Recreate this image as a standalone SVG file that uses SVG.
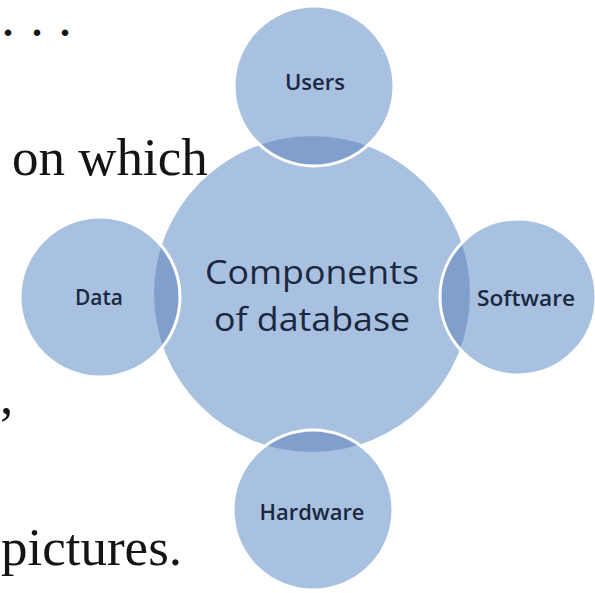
<svg xmlns="http://www.w3.org/2000/svg" width="595" height="593" viewBox="0 0 595 593">
<style>
.serif{font-family:"Liberation Serif","Times New Roman",serif;font-size:53px;fill:#141414}
.dots{font-family:"Liberation Serif","Times New Roman",serif;font-size:40px;font-weight:bold;fill:#141414}
.lbl{font-family:"Open Sans","Liberation Sans",sans-serif;fill:#1B2840;text-anchor:middle}
.sat{font-size:22px;font-weight:600}
.main{font-size:32px;font-weight:500}
.fill{fill:#A9C1E0}
.lens{fill:#809FCC}
.ring{fill:none;stroke:#FFFFFF;stroke-width:3}
</style>
<defs>
<clipPath id="cUsers"><circle cx="314" cy="86" r="80"/></clipPath>
<clipPath id="cData"><circle cx="100" cy="297" r="80"/></clipPath>
<clipPath id="cSoft"><circle cx="518" cy="297" r="78"/></clipPath>
<clipPath id="cHard"><circle cx="313" cy="510" r="80"/></clipPath>
</defs>
<rect width="595" height="593" fill="#FFFFFF"/>
<text class="dots" x="3 32 60" y="36">...</text>
<text class="serif" x="12" y="175">on which</text>
<text class="serif" x="0" y="413">,</text>
<text class="serif" x="1" y="565">pictures.</text>
<g id="center">
<circle class="fill" cx="312" cy="294" r="158"/>
<text class="lbl main" x="312" y="284" textLength="214" lengthAdjust="spacingAndGlyphs">Components</text>
<text class="lbl main" x="312" y="331" textLength="196" lengthAdjust="spacingAndGlyphs">of database</text>
</g>
<g id="users">
<circle class="fill" cx="314" cy="86" r="80"/>
<circle class="lens" cx="312" cy="294" r="158" clip-path="url(#cUsers)"/>
<circle class="ring" cx="314" cy="86" r="80"/>
<text class="lbl sat" x="315" y="90" textLength="60" lengthAdjust="spacingAndGlyphs">Users</text>
</g>
<g id="data">
<circle class="fill" cx="100" cy="297" r="80"/>
<circle class="lens" cx="312" cy="294" r="158" clip-path="url(#cData)"/>
<circle class="ring" cx="100" cy="297" r="80"/>
<text class="lbl sat" x="99" y="305" textLength="48" lengthAdjust="spacingAndGlyphs">Data</text>
</g>
<g id="software">
<circle class="fill" cx="518" cy="297" r="78"/>
<circle class="lens" cx="312" cy="294" r="158" clip-path="url(#cSoft)"/>
<circle class="ring" cx="518" cy="297" r="78"/>
<text class="lbl sat" x="526" y="306" textLength="98" lengthAdjust="spacingAndGlyphs">Software</text>
</g>
<g id="hardware">
<circle class="fill" cx="313" cy="510" r="80"/>
<circle class="lens" cx="312" cy="294" r="158" clip-path="url(#cHard)"/>
<circle class="ring" cx="313" cy="510" r="80"/>
<text class="lbl sat" x="312" y="520" textLength="105" lengthAdjust="spacingAndGlyphs">Hardware</text>
</g>
<g id="connectors"/>
</svg>
